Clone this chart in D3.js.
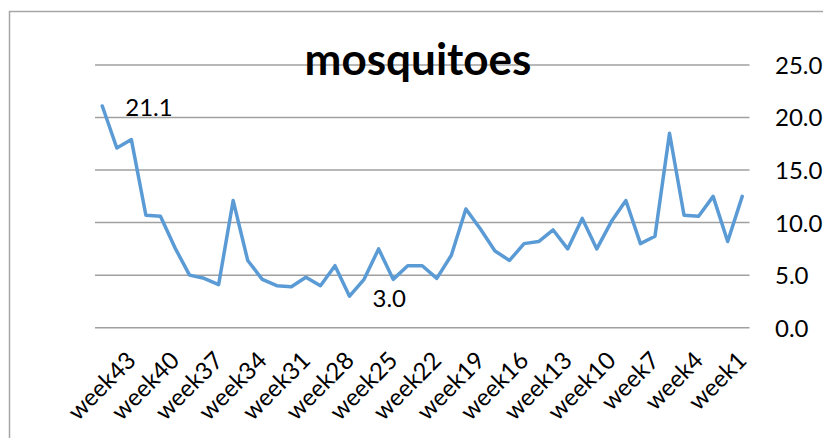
<!DOCTYPE html>
<html>
<head>
<meta charset="utf-8">
<script src="https://cdn.jsdelivr.net/npm/d3@7"></script>
<style>
  html, body { margin: 0; padding: 0; background: #fff; }
  svg { display: block; font-family: Lato, "Open Sans", sans-serif; }
</style>
</head>
<body>
<svg id="chart" width="823" height="438"></svg>
<script>
// ---- data ----
const categories = ["week45","week44","week43","week42","week41","week40","week39","week38","week37","week36",
  "week35","week34","week33","week32","week31","week30","week29","week28","week27","week26",
  "week25","week24","week23","week22","week21","week20","week19","week18","week17","week16",
  "week15","week14","week13","week12","week11","week10","week9","week8","week7","week6",
  "week5","week4","week3","week2","week1"];
const mosquitoes = [21.1,17.1,17.9,10.7,10.6,7.6,5.0,4.7,4.1,12.1,
  6.4,4.6,4.0,3.9,4.8,4.0,5.9,3.0,4.6,7.5,
  4.6,5.9,5.9,4.7,6.9,11.3,9.4,7.3,6.4,8.0,
  8.2,9.3,7.5,10.4,7.5,10.1,12.1,8.0,8.7,18.5,
  10.7,10.6,12.5,8.2,12.5];
const xTickLabels = ["week43","week40","week37","week34","week31","week28","week25","week22",
  "week19","week16","week13","week10","week7","week4","week1"];
const yTicks = [0, 5, 10, 15, 20, 25];
const labeledCategories = ["week45", "week28"];
const title = "mosquitoes";

// ---- layout ----
const svg = d3.select("#chart");
const plot = { left: 95, right: 749.5, top: 65, bottom: 327.7 };
const fs = 24;

const x = d3.scalePoint().domain(categories).range([plot.left, plot.right]).padding(0.5);
const y = d3.scaleLinear().domain([0, 25]).range([plot.bottom, plot.top]);

// chart border
svg.append("path")
  .attr("d", `M9.5,438 L9.5,11.5 L823,11.5`)
  .attr("fill", "none").attr("stroke", "#a6a6a6").attr("stroke-width", 1.5);

// gridlines
svg.append("g").selectAll("line").data(yTicks).join("line")
  .attr("x1", plot.left).attr("x2", plot.right)
  .attr("y1", d => y(d)).attr("y2", d => y(d))
  .attr("stroke", "#a0a0a0").attr("stroke-width", 1.5);

// right axis labels
const yAxis = d3.axisRight(y).tickValues(yTicks).tickFormat(d3.format(".1f")).tickSize(0).tickPadding(0);
const gy = svg.append("g").attr("transform", `translate(775,0)`).call(yAxis);
gy.select(".domain").remove();
gy.selectAll("text").attr("font-size", fs).attr("fill", "#000").attr("font-family", "Lato, sans-serif")
  .attr("dy", "0.35em").attr("x", 0);

// x axis labels
const xAxis = d3.axisBottom(x).tickValues(xTickLabels).tickSize(0).tickPadding(0);
const gx = svg.append("g").attr("transform", `translate(-5,${plot.bottom + 21})`).call(xAxis);
gx.select(".domain").remove();
gx.selectAll("text")
  .attr("font-size", fs).attr("fill", "#000").attr("font-family", "Lato, sans-serif")
  .attr("text-anchor", "end")
  .attr("dy", "0.7em").attr("y", 0).attr("x", -2)
  .attr("transform", "rotate(-45)");

// line
const line = d3.line().x((d, i) => x(categories[i])).y(d => y(d));
svg.append("path").datum(mosquitoes)
  .attr("d", line)
  .attr("fill", "none").attr("stroke", "#5b9bd5").attr("stroke-width", 3.5)
  .attr("stroke-linejoin", "round").attr("stroke-linecap", "round");

// data labels
svg.append("g").selectAll("text").data(labeledCategories).join("text")
  .attr("x", d => x(d) + 23)
  .attr("y", d => y(mosquitoes[categories.indexOf(d)]) + 2)
  .attr("dy", "0.35em")
  .attr("font-size", fs).attr("fill", "#000")
  .text(d => d3.format(".1f")(mosquitoes[categories.indexOf(d)]));

// title
const t = svg.append("text")
  .attr("x", 418).attr("y", 75)
  .attr("text-anchor", "middle")
  .attr("font-weight", "bold").attr("font-size", 40).attr("fill", "#000")
  .text(title);
const w = t.node().getComputedTextLength();
t.attr("font-size", 40 * 227 / w);
</script>
</body>
</html>
